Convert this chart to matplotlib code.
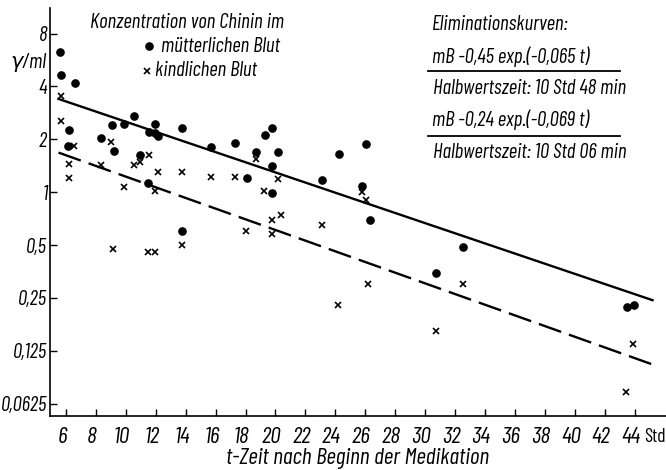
import numpy as np
import matplotlib
matplotlib.use("Agg")
import matplotlib.pyplot as plt
import matplotlib.transforms as mtrans

# Chinin im muetterlichen Blut (Punkte)
t_mutter = [5.6, 5.65, 6.6, 6.22, 6.15, 8.37, 9.06, 9.23, 9.88, 10.57, 10.95, 11.55,
            11.95, 11.95, 12.17, 11.5, 13.74, 13.74, 15.72, 17.28, 18.1, 18.7, 19.27,
            19.76, 19.76, 19.76, 20.16, 23.1, 24.26, 25.8, 26.05, 26.3, 30.7, 32.5,
            43.5, 43.94]
c_mutter = [6.25, 4.68, 4.18, 2.27, 1.84, 2.03, 2.42, 1.72, 2.44, 2.72, 1.63, 2.19,
            2.44, 2.17, 2.10, 1.13, 2.32, 0.60, 1.82, 1.90, 1.20, 1.69, 2.12,
            2.32, 1.41, 0.99, 1.69, 1.18, 1.65, 1.09, 1.89, 0.695, 0.346, 0.49,
            0.221, 0.228]

# Chinin im kindlichen Blut (Kreuze)
t_kind = [5.67, 5.67, 6.54, 6.2, 6.2, 8.34, 9.0, 9.9, 10.57, 10.95, 11.55, 12.13,
          11.98, 13.74, 15.72, 17.3, 18.7, 19.2, 20.16, 18.0, 19.76, 20.4, 19.76,
          23.1, 9.15, 11.5, 11.98, 13.74, 24.2, 25.8, 26.05, 26.2, 32.5, 30.7,
          43.88, 43.44]
c_kind = [3.51, 2.53, 1.84, 1.44, 1.21, 1.43, 1.93, 1.07, 1.43, 1.49, 1.62, 1.30,
          1.01, 1.30, 1.22, 1.22, 1.55, 1.02, 1.19, 0.60, 0.695, 0.74, 0.58,
          0.65, 0.473, 0.455, 0.455, 0.50, 0.228, 1.0, 0.90, 0.30, 0.30, 0.162,
          0.137, 0.073]

# Eliminationskurven c = a * exp(-k t)
a_mutter, k_mutter = 4.90, 0.0665
a_kind, k_kind = 2.47, 0.070
t_kurve = [5.5, 45.2]

x_ticks = list(range(6, 46, 2))
y_ticks = [0.0625, 0.125, 0.25, 0.5, 1, 2, 4, 8]
y_labels = ["0,0625", "0,125", "0,25", "0,5", "1", "2", "4", "8"]

plt.rcParams['font.family'] = ["Barlow Condensed", "DejaVu Sans"]
plt.rcParams['font.style'] = 'italic'
fs = 15

fig = plt.figure(figsize=(6.66, 4.70), dpi=100)
ax = fig.add_axes([50/666, 54/470, 616/666, 408/470])

tt = np.linspace(t_kurve[0], t_kurve[1], 50)
ax.plot(tt, a_mutter*np.exp(-k_mutter*tt), color='black', lw=1.7)
ax.plot(tt, a_kind*np.exp(-k_kind*tt), color='black', lw=1.7, ls=(0, (10, 3.5)))

ax.plot(t_mutter, c_mutter, 'o', color='black', ms=5.2, ls='none')
ax.plot(t_kind, c_kind, 'x', color='black', ms=4.5, mew=1.2, ls='none')

ax.set_yscale('log', base=2)
ax.set_xlim(4.93, 46.1)
ax.set_ylim(0.0531, 11.2)
ax.set_yticks(y_ticks)
ax.set_yticklabels(y_labels)
ax.minorticks_off()
ax.set_xticks(x_ticks)
ax.set_xticklabels([str(x) for x in x_ticks])
ax.tick_params(direction='in', length=5, width=1)
ax.tick_params(axis='y', labelsize=15, pad=2)
ax.tick_params(axis='x', labelsize=17, pad=8)

# Ziffern etwas nach links wie im Original
shift = mtrans.ScaledTranslation(-4/100, 0, fig.dpi_scale_trans)
for lab in ax.xaxis.get_ticklabels():
    lab.set_transform(lab.get_transform() + shift)

# "Std" am Ende der Achse
ax.text(1.0, -0.052, "Std", transform=ax.transAxes, ha='right', va='center',
        fontsize=14, style='normal')

for s in ['top', 'right']:
    ax.spines[s].set_visible(False)
ax.spines['left'].set_linewidth(1.2)
ax.spines['bottom'].set_linewidth(1.2)

ax.set_xlabel("t-Zeit nach Beginn der Medikation", fontsize=17, labelpad=0)
fig.text(28/666, 1-62/470, "γ/ml", fontsize=fs, ha='center', va='center')

# Legende
fig.text(90/666, 1-22/470, "Konzentration von Chinin im", fontsize=fs, va='center')
fig.text(161/666, 1-46/470, "mütterlichen Blut", fontsize=fs, va='center')
fig.text(155/666, 1-71/470, "kindlichen Blut", fontsize=fs, va='center')
fig.lines.append(plt.Line2D([149/666], [1-46/470], marker='o', color='black', ms=5.2,
                            transform=fig.transFigure))
fig.lines.append(plt.Line2D([147/666], [1-71/470], marker='x', color='black', ms=4.5,
                            mew=1.2, transform=fig.transFigure))

# Eliminationskurven Text
fig.text(432/666, 1-25/470, "Eliminationskurven:", fontsize=fs, va='center')
fig.text(432/666, 1-57/470, "mB -0,45 exp.(-0,065 t)", fontsize=fs, va='center')
fig.text(433/666, 1-88/470, "Halbwertszeit: 10 Std 48 min", fontsize=fs, va='center')
fig.text(432/666, 1-120/470, "mB -0,24 exp.(-0,069 t)", fontsize=fs, va='center')
fig.text(433/666, 1-152/470, "Halbwertszeit: 10 Std 06 min", fontsize=fs, va='center')
for yy in [71, 136]:
    fig.lines.append(plt.Line2D([428/666, 620/666], [1-yy/470, 1-yy/470], color='black',
                                lw=1.3, transform=fig.transFigure))

fig.savefig("out.png", dpi=100)
